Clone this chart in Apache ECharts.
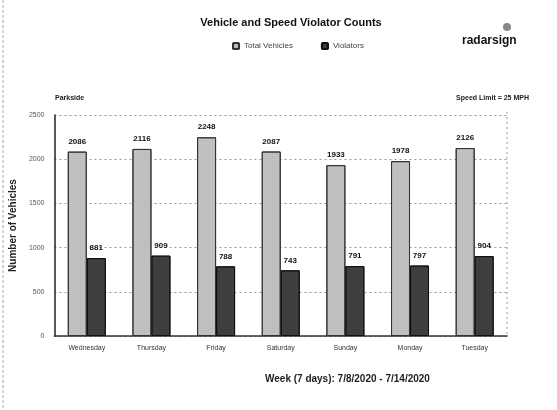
<!DOCTYPE html>
<html>
<head>
<meta charset="utf-8">
<script src="https://cdn.jsdelivr.net/npm/echarts@6/dist/echarts.min.js"></script>
<style>
  html, body { margin: 0; padding: 0; background: #fff; }
  #chart { width: 557px; height: 410px; }
</style>
</head>
<body>
<div id="chart"></div>
<script>
// days of the week shown on the x axis
const days = ['Wednesday', 'Thursday', 'Friday', 'Saturday', 'Sunday', 'Monday', 'Tuesday']
const totalVehicles = [2086, 2116, 2248, 2087, 1933, 1978, 2126]
const violators = [881, 909, 788, 743, 791, 797, 904]
const yTicks = [0, 500, 1000, 1500, 2000, 2500]

const chart = echarts.init(document.getElementById('chart'))

const labelStyle = {
  show: true,
  position: 'top',
  distance: 6,
  fontSize: 8,
  fontWeight: 'bold',
  color: '#111',
  fontFamily: 'Liberation Sans'
}

const option = {
  animation: false,
  backgroundColor: '#fff',
  title: {
    text: 'Vehicle and Speed Violator Counts',
    left: 286,
    top: 12,
    textAlign: 'center',
    textStyle: { fontSize: 11, fontWeight: 'bold', color: '#111', fontFamily: 'Liberation Sans' }
  },
  legend: {
    top: 37,
    left: 227,
    itemWidth: 6,
    itemHeight: 6,
    itemGap: 28,
    textStyle: { fontSize: 8, color: '#444', fontFamily: 'Liberation Sans' },
    data: ['Total Vehicles', 'Violators']
  },
  grid: { left: 53, right: 50, top: 115, bottom: 74 },
  xAxis: {
    type: 'category',
    data: days,
    axisTick: { show: false },
    axisLine: { lineStyle: { color: '#333', width: 1.5 } },
    axisLabel: { fontSize: 7, color: '#333', margin: 9, fontFamily: 'Liberation Sans' }
  },
  yAxis: {
    type: 'value',
    min: yTicks[0],
    max: yTicks[yTicks.length - 1],
    interval: 500,
    name: 'Number of Vehicles',
    nameLocation: 'middle',
    nameGap: 30,
    nameTextStyle: { fontSize: 10, fontWeight: 'bold', color: '#222', fontFamily: 'Liberation Sans' },
    axisLine: { show: true, lineStyle: { color: '#222', width: 1.5 } },
    axisTick: { show: false },
    axisLabel: { fontSize: 7, color: '#555', margin: 10, fontFamily: 'Liberation Sans', formatter: v => String(v) },
    splitLine: { lineStyle: { color: '#999', type: [2, 3], width: 1 } }
  },
  series: [
    {
      name: 'Total Vehicles',
      type: 'bar',
      data: totalVehicles,
      barWidth: 19,
      barGap: '0%',
      itemStyle: {
        color: '#c2c2c2',
        borderColor: '#333',
        borderWidth: 1,
        decal: { symbol: 'rect', symbolSize: 0.5, color: 'rgba(90,90,90,0.45)', dashArrayX: [1, 1], dashArrayY: [1, 1], rotation: 0 }
      },
      label: labelStyle
    },
    {
      name: 'Violators',
      type: 'bar',
      data: violators,
      barWidth: 19,
      itemStyle: {
        color: '#3c3c3c',
        borderColor: '#111',
        borderWidth: 1,
        decal: { symbol: 'rect', symbolSize: 0.5, color: 'rgba(140,140,140,0.45)', dashArrayX: [1, 1], dashArrayY: [1, 1], rotation: 0 }
      },
      label: labelStyle
    }
  ],
  graphic: [
    // dashed right edge of plot area
    { type: 'line', shape: { x1: 507, y1: 112, x2: 507, y2: 336 }, style: { stroke: '#999', lineDash: [2, 3], lineWidth: 1 } },
    // scanned page edge on the left
    { type: 'line', shape: { x1: 3, y1: 0, x2: 3, y2: 410 }, style: { stroke: '#aaa', lineDash: [3, 2], lineWidth: 1 } },
    { type: 'text', left: 55, top: 95, style: { text: 'Parkside', fontSize: 7, fontWeight: 'bold', fill: '#222', fontFamily: 'Liberation Sans' } },
    { type: 'text', right: 28, top: 95, style: { text: 'Speed Limit = 25 MPH', fontSize: 7, fontWeight: 'bold', fill: '#222', fontFamily: 'Liberation Sans' } },
    { type: 'text', left: 462, top: 35, style: { text: 'radarsign', fontSize: 12, fontWeight: 'bold', fill: '#111', fontFamily: 'Liberation Sans' } },
    { type: 'circle', shape: { cx: 507, cy: 27, r: 4 }, style: { fill: '#888' } },
    { type: 'text', left: 265, top: 374, style: { text: 'Week (7 days): 7/8/2020 - 7/14/2020', fontSize: 10, fontWeight: 'bold', fill: '#222', fontFamily: 'Liberation Sans' } }
  ]
}

chart.setOption(option)
</script>
</body>
</html>
